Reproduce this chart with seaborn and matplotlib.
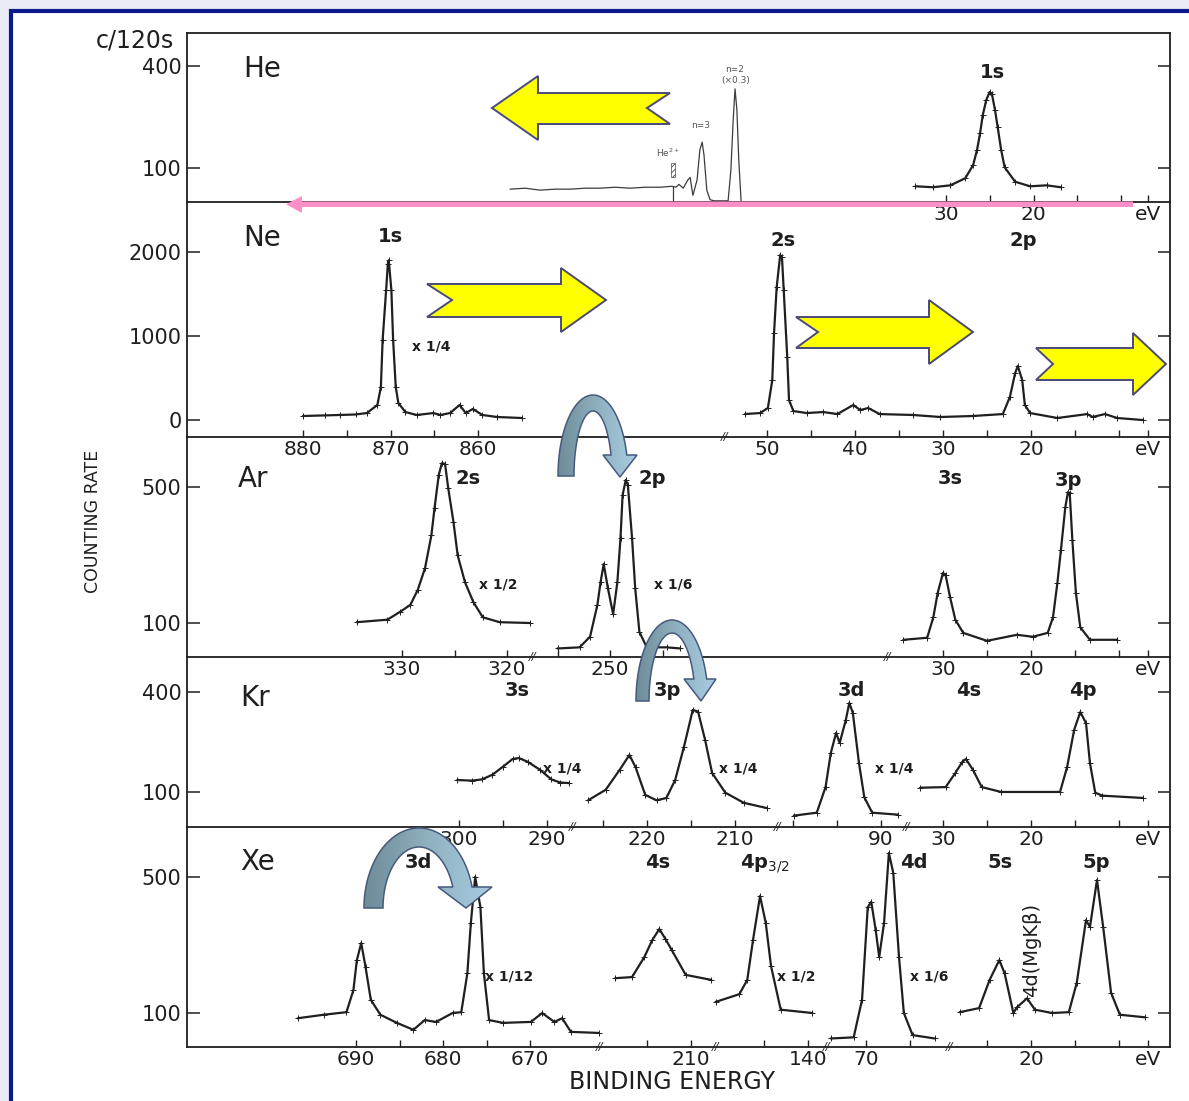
import numpy as np
import pandas as pd
import matplotlib
matplotlib.use("Agg")
import matplotlib.pyplot as plt
import seaborn as sns
from matplotlib.patches import Polygon, Rectangle
from matplotlib.colors import LinearSegmentedColormap
from matplotlib.ticker import NullLocator
from matplotlib.transforms import blended_transform_factory

sns.set_theme(style="white")
plt.rcParams["font.family"] = ["DejaVu Sans"]
plt.rcParams["mathtext.fontset"] = "dejavusans"
plt.rcParams["hatch.linewidth"] = 0.6

# ------------------------------------------------------------------
# Photoelectron spectra of the rare gases
# binding energy in eV, counting rate in counts per 120 s
# ------------------------------------------------------------------
he_1s_ev = [33.5, 31.5, 29.5, 27.8, 26.9, 26.45, 26.1, 25.8, 25.4, 25.0,
            24.75, 24.4, 24.1, 23.7, 23.3, 22.1, 20.4, 18.5, 16.9]
he_1s_counts = [78, 77, 79, 87, 104, 128, 161, 205, 252, 281,
                273, 220, 175, 128, 101, 83, 78, 79, 77]

# He+ satellite lines (n=2, n=3) and the He2+ threshold
he_sat_ev = [114.2, 110.9, 107.7, 104.5, 101.2, 98.0, 94.8, 91.5, 88.3, 85.0,
             81.8, 79.2, 78.4, 77.7, 76.8, 75.8, 75.3, 74.7, 73.8, 73.2,
             72.7, 72.3, 71.7, 71.0, 70.1, 67.1, 66.5, 66.0, 65.6, 65.2,
             64.8, 64.3]
he_sat_counts = [75, 76, 74, 75, 75, 76, 76, 77, 76, 77,
                 77, 78, 77, 80, 76, 85, 88, 69, 85, 128,
                 142, 119, 74, 65, 64, 64, 97, 192, 293, 220,
                 112, 64]
he2_threshold_ev = 79.0

ne_1s_ev = [880.0, 877.5, 875.8, 874.0, 872.7, 871.5, 871.1, 870.9, 870.5, 870.3,
            870.2, 869.9, 869.7, 869.4, 869.1, 868.3, 867.0, 865.1, 864.3, 863.2,
            862.1, 861.4, 860.6, 859.5, 857.8, 855.0]
ne_1s_counts = [48, 55, 60, 66, 83, 179, 393, 952, 1547, 1860,
                1900, 1547, 952, 393, 202, 95, 60, 83, 60, 83,
                179, 83, 131, 60, 36, 24]

ne_val_ev = [52.5, 50.8, 49.9, 49.4, 49.2, 48.9, 48.5, 48.3, 48.1, 47.7,
             47.5, 47.0, 45.5, 43.6, 42.0, 40.2, 39.4, 38.5, 37.2, 33.4,
             30.3, 26.6, 23.2, 22.4, 21.8, 21.5, 21.0, 20.7, 20.1, 17.0,
             13.6, 13.0, 11.6, 10.2, 7.3]
ne_val_counts = [71, 83, 143, 476, 1035, 1583, 1964, 1940, 1547, 750,
                 238, 107, 83, 95, 71, 179, 119, 143, 71, 60,
                 36, 48, 71, 274, 559, 643, 476, 179, 83, 24,
                 71, 36, 71, 24, 0]

ar_2s_ev = [334.3, 331.4, 330.2, 329.2, 328.5, 327.8, 327.2, 326.9, 326.5, 326.2,
            325.9, 325.6, 325.1, 324.7, 324.0, 323.2, 322.3, 320.7, 317.8]
ar_2s_counts = [101, 104, 114, 124, 148, 192, 283, 390, 576, 663,
                657, 494, 331, 223, 162, 128, 107, 101, 100]

ar_2p_ev = [255.0, 252.9, 251.9, 251.2, 250.9, 250.6, 250.2, 249.7, 249.3, 249.0,
            248.8, 248.5, 248.3, 247.9, 247.6, 247.2, 246.5, 244.6, 243.3]
ar_2p_counts = [74, 75, 85, 124, 162, 201, 151, 111, 162, 273,
                455, 543, 512, 273, 151, 90, 75, 75, 74]

ar_val_ev = [34.5, 31.8, 31.1, 30.6, 30.0, 29.7, 29.2, 28.6, 27.7, 25.0,
             21.6, 19.8, 18.1, 17.5, 17.0, 16.6, 16.1, 15.8, 15.6, 15.3,
             14.9, 14.4, 13.3, 10.2]
ar_val_counts = [82, 84, 107, 143, 181, 176, 136, 104, 89, 81,
                 87, 85, 89, 107, 161, 237, 394, 470, 466, 267,
                 143, 95, 82, 82]

kr_3s_ev = [300.2, 298.5, 297.4, 296.2, 295.0, 293.9, 293.2, 292.2, 290.8, 289.5,
            288.5, 287.5]
kr_3s_counts = [118, 117, 119, 127, 142, 158, 160, 152, 136, 119,
                114, 113]

kr_3p_ev = [226.7, 224.7, 223.1, 222.0, 221.3, 220.2, 218.9, 217.8, 216.8, 215.8,
            214.8, 214.2, 213.4, 212.6, 211.1, 209.0, 206.4]
kr_3p_counts = [89, 103, 136, 167, 141, 96, 89, 92, 118, 187,
                312, 305, 206, 130, 99, 86, 80]

kr_3d_ev = [99.9, 97.3, 96.3, 95.7, 95.1, 94.7, 94.0, 93.6, 93.2, 92.5,
            91.9, 91.0, 88.1]
kr_3d_counts = [72, 75, 107, 172, 227, 197, 271, 344, 299, 149,
                93, 75, 73]

kr_val_ev = [32.6, 29.7, 28.6, 27.8, 27.4, 26.6, 25.6, 23.4, 16.7, 15.9,
             15.1, 14.4, 13.75, 13.3, 12.7, 11.9, 7.3]
kr_val_counts = [106, 107, 130, 152, 158, 136, 107, 100, 100, 141,
                 236, 303, 260, 149, 99, 95, 92]

xe_3d_ev = [696.7, 693.7, 691.1, 690.3, 689.9, 689.4, 688.9, 688.3, 687.2, 685.3,
            683.4, 682.1, 680.8, 678.9, 677.9, 677.2, 676.8, 676.3, 675.7, 675.3,
            674.7, 673.1, 669.9, 668.6, 667.2, 666.3, 665.3, 662.1]
xe_3d_counts = [94, 98, 101, 131, 187, 229, 172, 117, 98, 89,
                82, 92, 90, 100, 101, 160, 290, 500, 350, 160,
                92, 89, 90, 100, 90, 94, 80, 79]

xe_4s_ev = [218.6, 216.7, 215.3, 214.4, 213.6, 212.9, 212.2, 210.6, 207.7]
xe_4s_counts = [151, 153, 194, 237, 270, 240, 211, 157, 148]

xe_4p_ev = [150.5, 147.8, 146.9, 146.25, 145.45, 144.8, 144.2, 143.1, 139.5]
xe_4p_counts = [114, 125, 148, 237, 399, 290, 174, 104, 100]

xe_4d_ev = [74.0, 71.4, 70.45, 69.8, 69.4, 68.9, 68.5, 67.95, 67.4, 66.9,
            66.25, 65.7, 64.7, 62.2]
xe_4d_counts = [74, 75, 117, 350, 372, 267, 194, 290, 664, 524,
                194, 100, 77, 74]

xe_val_ev = [28.1, 25.9, 24.7, 23.6, 23.0, 22.0, 21.6, 20.45, 19.55, 17.6,
             15.7, 14.8, 13.75, 13.3, 12.5, 11.8, 10.9, 9.9, 7.0]
xe_val_counts = [101, 106, 148, 187, 160, 100, 107, 119, 104, 100,
                 101, 143, 300, 277, 482, 277, 127, 98, 95]

# ------------------------------------------------------------------
# Layout: the figure is laid out in pixel units (1189 x 1101); every
# broken energy axis segment maps eV -> horizontal position with
# (reference energy, position of that energy, pixels per eV)
# ------------------------------------------------------------------
W, H = 1189, 1101
X0, X1 = 187, 1170
INK = "#1f1f1f"

SEG = {
    "he_val": (30, 946, 8.75), "he_sat": (79.0, 673, 4.63),
    "ne_1s": (880, 303, 8.75), "ne_val": (50, 767, 8.8),
    "ar_2s": (330, 402, 10.5), "ar_2p": (250, 610, 10.5), "ar_val": (30, 943, 8.8),
    "kr_3s": (300, 459, 8.8), "kr_3p": (220, 647, 8.8), "kr_3d": (90, 881, 8.8),
    "kr_val": (30, 943, 8.8),
    "xe_3d": (690, 356, 8.7), "xe_4s": (210, 691, 8.8), "xe_4p": (140, 808, 8.8),
    "xe_4d": (70, 866, 8.8), "xe_val": (20, 1031, 8.8),
}

# name, top, bottom (px), y scale, y limits, y ticks
PANELS = [
    ("He", 33, 202, "log", (63, 626), [100, 400]),
    ("Ne", 202, 437, "linear", (-202, 2595), [0, 1000, 2000]),
    ("Ar", 437, 657, "log", (66.9, 903), [100, 500]),
    ("Kr", 657, 827, "log", (61.5, 650), [100, 400]),
    ("Xe", 827, 1047, "log", (66.9, 903), [100, 500]),
]

XTICKS = {
    "He": [("he_val", [30, 25, 20, 15, 10], [30, 20])],
    "Ne": [("ne_1s", [880, 875, 870, 865, 860], [880, 870, 860]),
           ("ne_val", [50, 45, 40, 35, 30, 25, 20, 15, 10], [50, 40, 30, 20])],
    "Ar": [("ar_2s", [330, 325, 320], [330, 320]),
           ("ar_2p", [255, 250, 245], [250]),
           ("ar_val", [30, 25, 20, 15, 10], [30, 20])],
    "Kr": [("kr_3s", [300, 295, 290], [300, 290]),
           ("kr_3p", [225, 220, 215, 210], [220, 210]),
           ("kr_3d", [100, 95, 90], [90]),
           ("kr_val", [30, 25, 20, 15, 10], [30, 20])],
    "Xe": [("xe_3d", [690, 685, 680, 675, 670], [690, 680, 670]),
           ("xe_4s", [215, 210], [210]),
           ("xe_4p", [145, 140], [140]),
           ("xe_4d", [70, 65], [70]),
           ("xe_val", [25, 20, 15, 10], [20])],
}
BREAKS = {"He": [], "Ne": [725], "Ar": [533, 888], "Kr": [573, 778, 907],
          "Xe": [600, 716, 827, 950]}
EV_POS = 1148


def pos(ev, seg):
    e0, x0, k = SEG[seg]
    return x0 + (e0 - np.asarray(ev, dtype=float)) * k


def fx(x):
    return x / W


def fy(y):
    return 1 - y / H


def trace(ax, ev, counts, seg, lw=1.6, color=INK, marks=True):
    df = pd.DataFrame({"position": pos(ev, seg), "counts": counts})
    kw = dict(marker="+", markersize=4, markeredgewidth=0.7,
              markeredgecolor=color) if marks else dict(marker=None)
    sns.lineplot(data=df, x="position", y="counts", ax=ax, color=color, lw=lw,
                 sort=False, estimator=None, **kw)


fig = plt.figure(figsize=(W / 100, H / 100), dpi=100)
fig.patch.set_facecolor("#e8ebf4")

# slide frame
bg = fig.add_axes([0, 0, 1, 1], zorder=0)
bg.set_xlim(0, W)
bg.set_ylim(H, 0)
bg.axis("off")
bg.add_patch(Rectangle((10.5, 10.5), W, H, facecolor="white",
                       edgecolor="#0a1a8c", lw=3.0))

axes = {}
for name, top, bot, scale, ylim, yt in PANELS:
    ax = fig.add_axes([fx(X0), fy(bot), (X1 - X0) / W, (bot - top) / H], zorder=1)
    ax.set_facecolor("none")
    ax.set_yscale(scale)
    axes[name] = ax

# spectra
trace(axes["He"], he_1s_ev, he_1s_counts, "he_val")
trace(axes["He"], he_sat_ev, he_sat_counts, "he_sat", lw=0.9, color="#3c3c3c", marks=False)
trace(axes["Ne"], ne_1s_ev, ne_1s_counts, "ne_1s")
trace(axes["Ne"], ne_val_ev, ne_val_counts, "ne_val")
trace(axes["Ar"], ar_2s_ev, ar_2s_counts, "ar_2s")
trace(axes["Ar"], ar_2p_ev, ar_2p_counts, "ar_2p")
trace(axes["Ar"], ar_val_ev, ar_val_counts, "ar_val")
trace(axes["Kr"], kr_3s_ev, kr_3s_counts, "kr_3s")
trace(axes["Kr"], kr_3p_ev, kr_3p_counts, "kr_3p")
trace(axes["Kr"], kr_3d_ev, kr_3d_counts, "kr_3d")
trace(axes["Kr"], kr_val_ev, kr_val_counts, "kr_val")
trace(axes["Xe"], xe_3d_ev, xe_3d_counts, "xe_3d")
trace(axes["Xe"], xe_4s_ev, xe_4s_counts, "xe_4s")
trace(axes["Xe"], xe_4p_ev, xe_4p_counts, "xe_4p")
trace(axes["Xe"], xe_4d_ev, xe_4d_counts, "xe_4d")
trace(axes["Xe"], xe_val_ev, xe_val_counts, "xe_val")

# He2+ threshold marker
he_ax = axes["He"]
hx = float(pos(he2_threshold_ev, "he_sat"))
he_ax.vlines(hx, 63, 78, color="#3c3c3c", lw=0.9)
he_ax.add_patch(Rectangle((hx - 2, 89), 4, 18, hatch="//////", fill=False,
                          lw=0.5, edgecolor="#444444"))

# axes styling
for name, top, bot, scale, ylim, yt in PANELS:
    ax = axes[name]
    ax.set_xlim(X0, X1)
    ax.set_ylim(*ylim)
    ax.set_xlabel("")
    ax.set_ylabel("")
    ax.set_yticks(yt)
    ax.set_yticklabels([str(t) for t in yt])
    ax.yaxis.set_minor_locator(NullLocator())
    ax.xaxis.set_minor_locator(NullLocator())
    xt, xl = [], []
    for seg, ticks, labelled in XTICKS[name]:
        for t in ticks:
            xt.append(float(pos(t, seg)))
            xl.append(str(t) if t in labelled else "")
    xt.append(EV_POS)
    xl.append("eV")
    ax.set_xticks(xt)
    ax.set_xticklabels(xl)
    ax.xaxis.get_major_ticks()[-1].tick1line.set_visible(False)
    ax.tick_params(axis="y", which="major", direction="in", length=9, width=1.1,
                   left=True, right=True, labelsize=15, pad=4, colors=INK)
    ax.tick_params(axis="x", which="major", direction="in", length=5, width=1.0,
                   bottom=True, top=False, labelsize=14.5, pad=2, colors=INK)
    for side in ("left", "right", "bottom", "top"):
        ax.spines[side].set_color(INK)
        ax.spines[side].set_linewidth(1.3)
    ax.spines["top"].set_visible(name == "He")
    tr = blended_transform_factory(ax.transData, ax.transAxes)
    for bx in BREAKS[name]:
        ax.text(bx, 0.0, "//", transform=tr, ha="center", va="center",
                fontsize=8, color=INK, style="italic")

# element names
for name, x, y in [("He", 243, 69), ("Ne", 243, 238), ("Ar", 238, 479),
                   ("Kr", 240, 698), ("Xe", 240, 862)]:
    fig.text(fx(x), fy(y), name, ha="left", va="center", fontsize=20, color=INK)

# orbital labels
for lab, x, y in [("1s", 992, 73), ("1s", 390, 237), ("2s", 783, 240), ("2p", 1023, 241),
                  ("2s", 468, 479), ("2p", 652, 479), ("3s", 950, 479), ("3p", 1068, 480),
                  ("3s", 517, 690), ("3p", 667, 691), ("3d", 851, 690), ("4s", 969, 690),
                  ("4p", 1083, 691),
                  ("3d", 418, 862), ("4s", 658, 862), ("4p$_{3/2}$", 765, 864),
                  ("4d", 914, 862), ("5s", 1000, 862), ("5p", 1096, 863)]:
    fig.text(fx(x), fy(y), lab, ha="center", va="center", fontsize=14,
             fontweight="bold", color=INK)

fig.text(fx(1032), fy(950), "4d(MgKβ)", ha="center", va="center", rotation=90,
         fontsize=14, color=INK)

# scale factors
for lab, x, y in [("x 1/4", 431, 347), ("x 1/2", 498, 584), ("x 1/6", 673, 584),
                  ("x 1/4", 562, 768), ("x 1/4", 738, 768), ("x 1/4", 894, 768),
                  ("x 1/12", 509, 976), ("x 1/2", 796, 976), ("x 1/6", 929, 976)]:
    fig.text(fx(x), fy(y), lab, ha="center", va="center", fontsize=10,
             fontweight="bold", color=INK)

# satellite annotations
for lab, x, y in [("n=2", 735, 70), ("(×0.3)", 736, 80), ("n=3", 701, 126),
                  ("He$^{2+}$", 668, 153)]:
    fig.text(fx(x), fy(y), lab, ha="center", va="center", fontsize=6.5, color="#555555")

# axis titles
fig.text(fx(135), fy(40), "c/120s", ha="center", va="center", fontsize=17, color=INK)
fig.text(fx(93), fy(521), "COUNTING RATE", ha="center", va="center", rotation=90,
         fontsize=12.5, color=INK, family=["Liberation Sans Narrow", "DejaVu Sans"])
fig.text(fx(672), fy(1082), "BINDING ENERGY", ha="center", va="center",
         fontsize=17, color=INK)

# ------------------------------------------------------------------
# Overlay arrows
# ------------------------------------------------------------------
ov = fig.add_axes([0, 0, 1, 1], zorder=10)
ov.set_autoscale_on(False)
ov.set_xlim(0, W)
ov.set_ylim(H, 0)
ov.axis("off")

YELLOW_ARROWS = [
    [(670, 93), (538, 93), (538, 76), (492, 108), (538, 140), (538, 124), (670, 124), (647, 108)],
    [(427, 284), (561, 284), (561, 268), (606, 300), (561, 332), (561, 317), (427, 317), (452, 300)],
    [(796, 317), (929, 317), (929, 300), (973, 332), (929, 364), (929, 348), (796, 348), (818, 332)],
    [(1036, 348), (1133, 348), (1133, 333), (1166, 364), (1133, 395), (1133, 380), (1036, 380), (1053, 364)],
]
for pts in YELLOW_ARROWS:
    ov.add_patch(Polygon(pts, closed=True, facecolor="#ffff00", edgecolor="#4a4a7a",
                         lw=1.4, zorder=4))

# pink leftward arrow along the He axis
ov.add_patch(Polygon([(1133, 201.5), (302, 201.5), (302, 196), (286, 204.3), (302, 213),
                      (302, 207), (1133, 207)], closed=True, facecolor="#ff8fc8",
                     edgecolor="none", zorder=4))

ARC_CMAP = LinearSegmentedColormap.from_list("arc", ["#6e8c98", "#8fb0c0", "#a9cce2"])


def u_turn_arrow(cx, cy, a, b, w, y_head, head_l, head_r, tip_x, tip_y):
    t_out = np.arcsin((cy - y_head) / b)
    t_in = np.arcsin((cy - y_head) / (b - w))
    to = np.linspace(np.pi, t_out, 80)
    ti = np.linspace(t_in, np.pi, 80)
    outer = np.column_stack([cx + a * np.cos(to), cy - b * np.sin(to)])
    inner = np.column_stack([cx + (a - w) * np.cos(ti), cy - (b - w) * np.sin(ti)])
    head = np.array([[head_r, y_head], [tip_x, tip_y], [head_l, y_head]])
    pts = np.vstack([outer, head, inner])
    patch = Polygon(pts, closed=True, facecolor="none", edgecolor="#475a7c",
                    lw=1.1, zorder=6)
    ov.add_patch(patch)
    x0, x1 = pts[:, 0].min(), pts[:, 0].max()
    y0, y1 = pts[:, 1].min(), pts[:, 1].max()
    im = ov.imshow(np.linspace(0, 1, 256)[None, :], cmap=ARC_CMAP,
                   extent=(x0, x1, y1, y0), aspect="auto", zorder=5,
                   interpolation="bilinear")
    im.set_clip_path(patch)


u_turn_arrow(593, 476, 35, 81, 16, 455, 603, 637, 620, 477)
u_turn_arrow(672, 701, 36, 81, 13, 679, 684, 716, 701, 701)
u_turn_arrow(419, 908, 55, 80, 19, 887, 438, 492, 466, 908)

ov.set_xlim(0, W)
ov.set_ylim(H, 0)

fig.savefig("out.png", dpi=100, facecolor=fig.get_facecolor())
